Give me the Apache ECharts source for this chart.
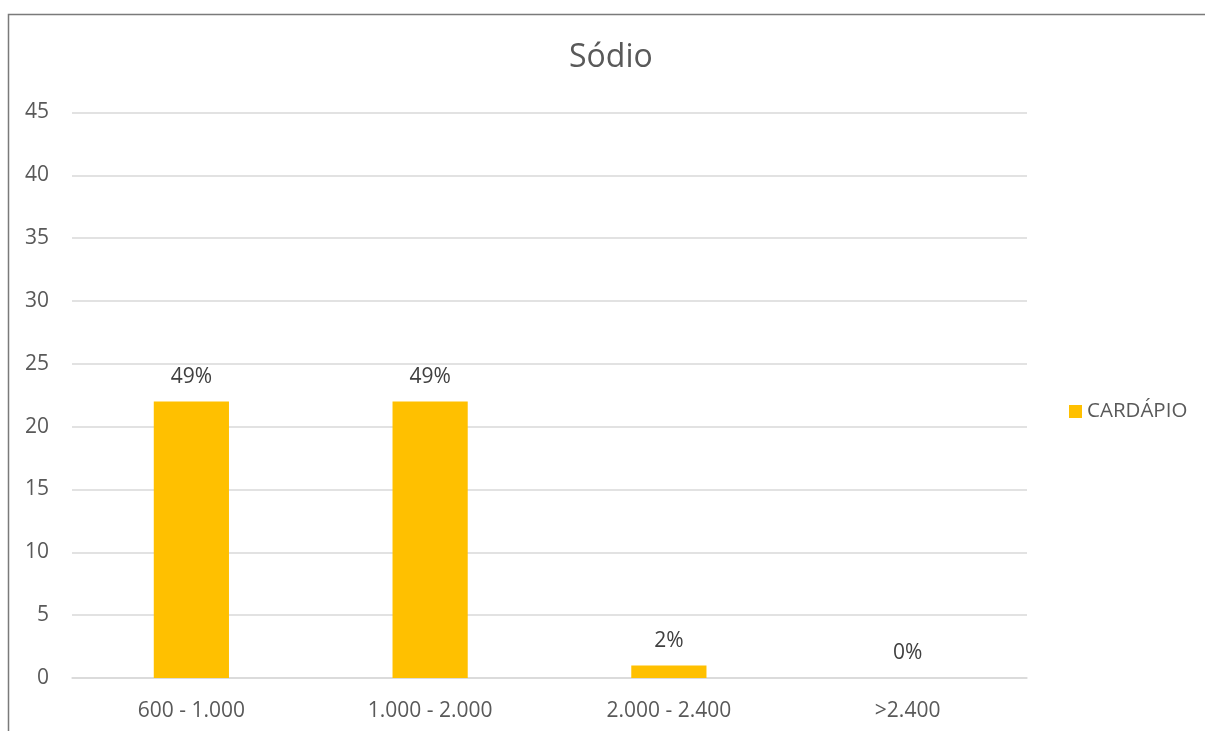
<!DOCTYPE html>
<html><head><meta charset="utf-8">
<script src="https://cdn.jsdelivr.net/npm/echarts@6/dist/echarts.min.js"></script>
<style>html,body{margin:0;padding:0;background:#fff}#chart{width:1205px;height:731px}</style>
</head><body><div id="chart"></div>
<script>
var categories = ['600 - 1.000', '1.000 - 2.000', '2.000 - 2.400', '>2.400'];
var values = [22, 22, 1, 0];
var percentLabels = ['49%', '49%', '2%', '0%'];
var seriesName = 'CARDÁPIO';
var titleText = 'Sódio';

var chart = echarts.init(document.getElementById('chart'));
var font = '"Open Sans", Lato, sans-serif';
chart.setOption({
  animation: false,
  backgroundColor: '#fff',
  graphic: [{
    type: 'rect', silent: true,
    shape: { x: 8.5, y: 14.5, width: 1400, height: 900 },
    style: { fill: 'none', stroke: '#7a7a7a', lineWidth: 1.5 }
  }, {
    type: 'text', silent: true, left: 569, top: 42,
    style: { text: titleText, fontFamily: font, fontSize: 32, fill: '#595959' }
  }],
  legend: {
    data: [seriesName], left: 1069, top: 401, orient: 'vertical', padding: 0,
    itemWidth: 13, itemHeight: 13, itemGap: 6,
    icon: 'rect',
    textStyle: { fontFamily: font, fontSize: 20.5, color: '#595959' }
  },
  grid: { left: 72, right: 178, top: 112.5, bottom: 53, containLabel: false },
  xAxis: {
    type: 'category', data: categories,
    axisLine: { show: true, lineStyle: { color: '#d9d9d9', width: 1.5 } },
    axisTick: { show: false },
    axisLabel: { fontFamily: font, fontSize: 21, color: '#595959', margin: 23 }
  },
  yAxis: {
    type: 'value', min: 0, max: 45, interval: 5,
    axisLine: { show: false }, axisTick: { show: false },
    splitLine: { lineStyle: { color: '#d9d9d9', width: 1.5 } },
    axisLabel: { fontFamily: font, fontSize: 21, color: '#595959', margin: 23, align: 'right' }
  },
  series: [{
    name: seriesName, type: 'bar', data: values,
    barWidth: '31.5%',
    itemStyle: { color: '#ffc000' },
    label: {
      show: true, position: 'top', distance: 14,
      fontFamily: font, fontSize: 21, color: '#404040',
      formatter: function (p) { return percentLabels[p.dataIndex]; }
    }
  }]
});
</script></body></html>
